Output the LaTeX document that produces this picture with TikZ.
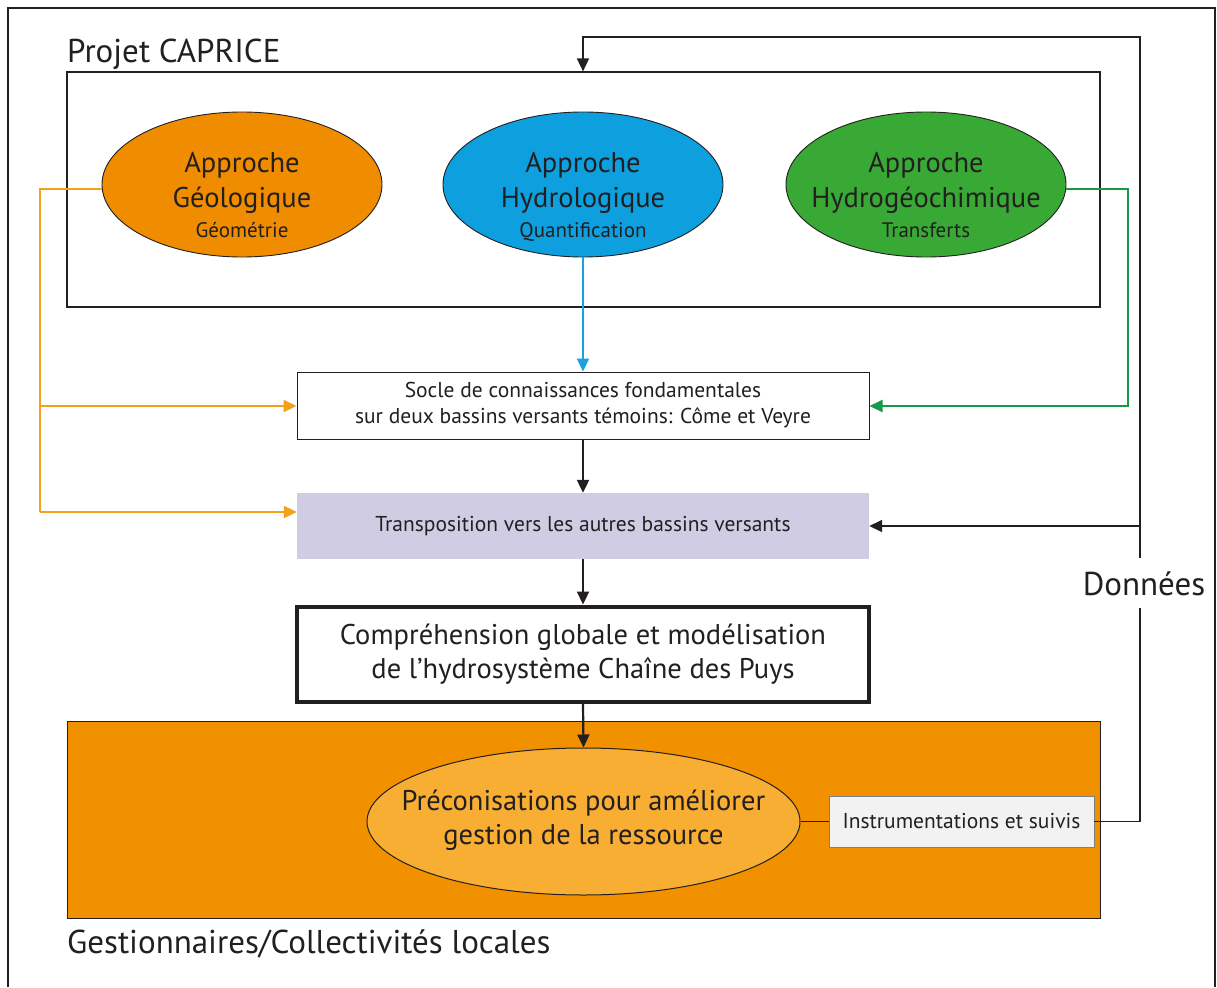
\documentclass[tikz,border=0pt]{standalone}
\usepackage{fontspec}
\setmainfont{PT Sans}
\usetikzlibrary{arrows.meta,shapes.geometric}
\definecolor{geoOr}{HTML}{F08C00}
\definecolor{hydBl}{HTML}{0EA0DE}
\definecolor{chiGr}{HTML}{38A935}
\definecolor{lineOr}{HTML}{F3A01C}
\definecolor{lineBl}{HTML}{1BA1E2}
\definecolor{lineGr}{HTML}{17994A}
\definecolor{lav}{HTML}{D0CCE4}
\definecolor{bigOr}{HTML}{F29100}
\definecolor{lightOr}{HTML}{F7AE33}
\definecolor{txt}{HTML}{231F20}
\tikzset{
  tip/.style={-{Triangle[length=13pt,width=12pt]}},
  approche/.style={ellipse,draw=txt,line width=0.9pt,minimum width=280pt,minimum height=145pt,inner sep=0pt},
  apptext/.style={align=center,text=txt,inner sep=0pt,font=\fontsize{28.5}{35}\selectfont},
  smallbox/.style={draw=txt,line width=1pt,fill=white,minimum width=572pt,minimum height=67pt,align=center,text=txt,font=\fontsize{21.5}{26}\selectfont},
  bigtext/.style={font=\fontsize{33}{36}\selectfont,text=txt,inner sep=0pt},
}
\begin{document}
\begin{tikzpicture}[x=1pt,y=-1pt]
\useasboundingbox (0,0) rectangle (1217,987);
\fill[white] (0,0) rectangle (1217,987);
% outer frame
\draw[line width=1.2pt,color=txt] (8,987) -- (8,8) -- (1215,8) -- (1215,987);
% Projet CAPRICE box
\node[draw=txt,line width=1.2pt,minimum width=1033pt,minimum height=235pt,inner sep=0pt] (caprice) at (583.5,189.5) {};
\node[bigtext,anchor=base west] (ptitle) at (67,63) {Projet CAPRICE};
% ellipses
\node[approche,fill=geoOr] (geo) at (242,184.5) {};
\node[approche,fill=hydBl] (hyd) at (583,184.5) {};
\node[approche,fill=chiGr] (chi) at (926,184.5) {};
\node[apptext,anchor=base] (geoT) at (242,237) {Approche\\Géologique\\[-5pt]{\fontsize{21}{25}\selectfont Géométrie}};
\node[apptext,anchor=base] (hydT) at (583,237) {Approche\\Hydrologique\\[-5pt]{\fontsize{21}{25}\selectfont Quantification}};
\node[apptext,anchor=base] (chiT) at (926,237) {Approche\\Hydrogéochimique\\[-5pt]{\fontsize{21}{25}\selectfont Transferts}};
% socle
\node[smallbox] (socle) at (583,405.5) {Socle de connaissances fondamentales\\sur deux bassins versants témoins: Côme et Veyre};
% transposition
\node[fill=lav,minimum width=572pt,minimum height=66pt,text=txt,font=\fontsize{21.5}{26}\selectfont] (trans) at (583,526) {Transposition vers les autres bassins versants};
% comprehension
\node[draw=txt,line width=4pt,fill=white,minimum width=572pt,minimum height=95pt,align=center,text=txt,font=\fontsize{28.5}{34}\selectfont] (comp) at (583,654) {Compréhension globale et modélisation\\de l’hydrosystème Chaîne des Puys};
% big orange area
\node[draw=txt,line width=1pt,fill=bigOr,minimum width=1033pt,minimum height=197pt,inner sep=0pt] (gest) at (583.5,819.5) {};
\node[bigtext,anchor=base west] (gtitle) at (67,953) {Gestionnaires/Collectivités locales};
\node[ellipse,draw=txt,line width=1pt,fill=lightOr,minimum width=433pt,minimum height=147pt,inner sep=0pt] (preco) at (583.5,821.5) {};
\node[align=center,text=txt,inner sep=0pt,font=\fontsize{28.5}{34}\selectfont] (precoT) at (583.5,820) {Préconisations pour améliorer\\gestion de la ressource};
\node[draw=gray,line width=0.8pt,fill=black!5,minimum width=265pt,minimum height=51pt,text=txt,font=\fontsize{21.5}{25}\selectfont] (instr) at (961.5,821.5) {Instrumentations et suivis};
% Données
\node[bigtext] (donnees) at (1144,584) {Données};
\coordinate (topR) at (1140,37);
\coordinate (topL) at (583,37);
\coordinate (dR) at (1140,821.5);
\coordinate (dT) at (1140,526);
\coordinate (dA) at (1140,558);
\coordinate (dB) at (1140,608);

% connectors
\draw[line width=1.6pt,txt] (instr.east) -- (dR) -- (dB);
\draw[line width=1.6pt,txt,tip] (dA) -- (topR) -- (topL) -- (caprice.north -| topL);
\draw[line width=1.6pt,txt,tip] (dT) -- (trans.east);
\draw[line width=1.2pt,txt] (preco.east) -- (instr.west);
\draw[line width=2.2pt,lineBl,tip] (hyd.south) -- (socle.north);
\draw[line width=2.2pt,txt,tip] (socle.south) -- (trans.north);
\draw[line width=2.2pt,txt,tip] (trans.south) -- (comp.north);
\draw[line width=2.2pt,txt,tip] (comp.south) -- (preco.north);
\coordinate (oL) at (40,189);
\coordinate (oM) at (40,406);
\coordinate (oB) at (40,512);
\draw[line width=2.2pt,lineOr] (geo.west |- oL) -- (oL) -- (oB);
\draw[line width=2.2pt,lineOr,tip] (oM) -- (socle.west |- oM);
\draw[line width=2.2pt,lineOr,tip] (oB) -- (trans.west |- oB);
\coordinate (gR) at (1128,189);
\coordinate (gB) at (1128,406);
\draw[line width=2.2pt,lineGr,tip] (chi.east |- gR) -- (gR) -- (gB) -- (socle.east |- gB);
\end{tikzpicture}
\end{document}
